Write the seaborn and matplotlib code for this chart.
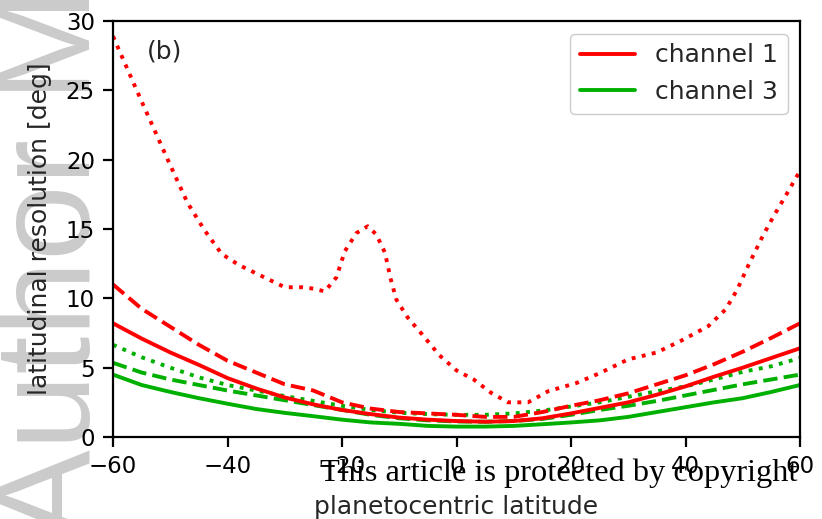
import numpy as np
import pandas as pd
import matplotlib
matplotlib.use("Agg")
import matplotlib.pyplot as plt
from matplotlib.lines import Line2D
import seaborn as sns

# Latitude grid shared by the smooth resolution curves
lat = [-60, -55, -50, -45, -40, -35, -30, -25, -20, -15, -10, -5, 0,
       5, 10, 15, 20, 25, 30, 35, 40, 45, 50, 55, 60]

# Channel 1 latitudinal resolution [deg]
ch1_solid = [8.2, 7.1, 6.1, 5.2, 4.25, 3.5, 2.85, 2.35, 1.95, 1.65, 1.4, 1.25, 1.15,
             1.1, 1.15, 1.35, 1.7, 2.1, 2.5, 3.05, 3.65, 4.35, 5.0, 5.7, 6.4]
ch1_dashed = [11.0, 9.25, 7.95, 6.65, 5.5, 4.65, 3.8, 3.35, 2.5, 2.05, 1.8, 1.7, 1.6,
              1.45, 1.45, 1.8, 2.25, 2.65, 3.15, 3.8, 4.45, 5.25, 6.15, 7.15, 8.2]

# Channel 1, dotted case, sampled more finely around the bump
lat_dotted = [-60, -55, -50, -47, -44, -41, -38, -35, -32, -30, -27, -25, -23, -21,
              -19.5, -17.5, -15.5, -14, -12.5, -11.5, -10.5, -8.5, -6, -3, 0, 3, 6,
              9, 12.5, 16, 21, 25, 30, 35, 39.5, 44, 47, 49, 51, 53.5, 55.5, 57.5, 60]
ch1_dotted = [28.9, 24.2, 19.6, 16.9, 14.9, 13.2, 12.4, 11.8, 11.2, 10.8, 10.8, 10.7,
              10.5, 11.5, 13.4, 14.7, 15.2, 14.6, 13.3, 11.4, 9.9, 8.6, 7.4, 5.9, 4.8,
              4.15, 3.2, 2.5, 2.5, 3.3, 3.9, 4.6, 5.6, 6.1, 7.0, 8.0, 9.2, 10.6, 12.4,
              14.5, 16.0, 17.4, 19.2]

# Channel 3 latitudinal resolution [deg]
ch3_solid = [4.5, 3.75, 3.25, 2.8, 2.4, 2.02, 1.74, 1.5, 1.25, 1.05, 0.95, 0.8, 0.75,
             0.75, 0.8, 0.92, 1.05, 1.2, 1.45, 1.8, 2.15, 2.5, 2.8, 3.25, 3.75]
ch3_dashed = [5.35, 4.65, 4.15, 3.75, 3.35, 3.0, 2.65, 2.3, 1.95, 1.6, 1.35, 1.2, 1.12,
              1.1, 1.15, 1.3, 1.6, 1.95, 2.25, 2.6, 3.0, 3.4, 3.8, 4.15, 4.5]
ch3_dotted = [6.65, 5.75, 5.0, 4.3, 3.75, 3.35, 2.95, 2.6, 2.25, 1.95, 1.75, 1.65, 1.6,
              1.6, 1.7, 1.9, 2.2, 2.5, 2.9, 3.3, 3.65, 4.15, 4.7, 5.1, 5.7]

x_ticks = [-60, -40, -20, 0, 20, 40, 60]
y_ticks = [0, 5, 10, 15, 20, 25, 30]

RED = "#ff0000"
GREEN = "#00b000"

sns.set_style("ticks")
plt.rcParams["font.family"] = ["DejaVu Sans"]

fig = plt.figure(figsize=(8.22, 5.19), dpi=100)

# Faint vertical manuscript banner along the left edge, reading bottom to top
fig.text(90 / 822, -21 / 519, "Author Manuscript", rotation=90,
         rotation_mode="anchor", ha="left", va="baseline",
         fontsize=98, color="#cbcbcb", family=["Liberation Sans"], zorder=-5)

ax = fig.add_axes([113 / 822, 82 / 519, 687 / 822, 416 / 519])
ax.set_facecolor("none")

lw = 2.8
series = [
    (lat, ch3_solid, GREEN, "-"),
    (lat, ch3_dashed, GREEN, "--"),
    (lat, ch3_dotted, GREEN, ":"),
    (lat, ch1_solid, RED, "-"),
    (lat, ch1_dashed, RED, "--"),
    (lat_dotted, ch1_dotted, RED, ":"),
]
for xs, ys, col, ls in series:
    df = pd.DataFrame({"lat": xs, "res": ys})
    sns.lineplot(data=df, x="lat", y="res", color=col, linestyle=ls, lw=lw,
                 ax=ax, legend=False, estimator=None, sort=False)

ax.set_xlim(-60, 60)
ax.set_ylim(0, 30)
ax.set_xticks(x_ticks)
ax.set_yticks(y_ticks)
ax.tick_params(axis="both", labelsize=16.5, length=7, width=1.6, direction="out",
               pad=6, color="black", labelcolor="black")
for sp in ax.spines.values():
    sp.set_linewidth(1.6)
    sp.set_color("black")

ax.set_xlabel("planetocentric latitude", fontsize=18, labelpad=12)
ax.set_ylabel("latitudinal resolution [deg]", fontsize=18, labelpad=10)

ax.text(0.05, 0.955, "(b)", transform=ax.transAxes, fontsize=18, ha="left", va="top")

handles = [Line2D([0], [0], color=RED, lw=lw), Line2D([0], [0], color=GREEN, lw=lw)]
ax.legend(handles, ["channel 1", "channel 3"], loc="upper right", fontsize=18,
          handlelength=2.2, frameon=True, framealpha=1, edgecolor="#cccccc",
          fancybox=True, borderaxespad=0.5)

# Copyright notice printed across the lower part of the page
fig.text(320 / 822, (519 - 481) / 519, "This article is protected by copyright",
         fontsize=23.3, family=["Liberation Serif"], color="black", ha="left",
         va="baseline", zorder=5)

fig.savefig("out.png", dpi=100)
